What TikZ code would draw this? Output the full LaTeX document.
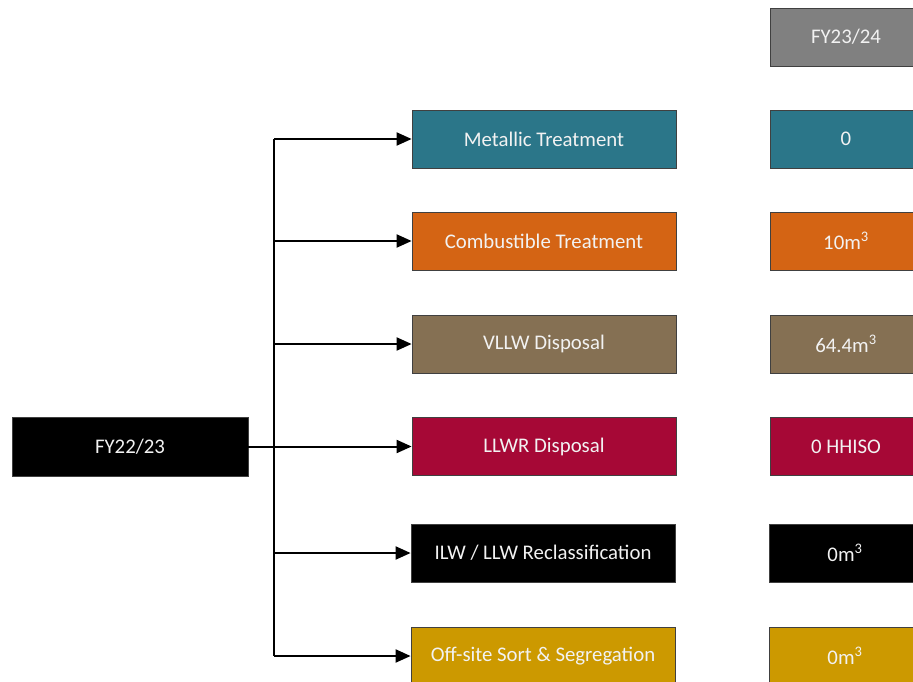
\documentclass[tikz,border=0pt]{standalone}
\usepackage{fontspec}
\setmainfont{Carlito}
\usetikzlibrary{arrows.meta}

\definecolor{metalcol}{RGB}{43,118,137}
\definecolor{combcol}{RGB}{212,100,20}
\definecolor{vllwcol}{RGB}{133,112,83}
\definecolor{llwrcol}{RGB}{166,8,54}
\definecolor{goldcol}{RGB}{204,153,0}
\definecolor{yearcol}{RGB}{128,128,128}

\tikzset{
  box/.style={draw=black!75, line width=0.8pt, text=white!95!black, inner sep=0pt,
    minimum height=58pt, font=\fontsize{20.8}{24}\selectfont},
  route/.style={minimum width=264pt},
  result/.style={minimum width=152pt},
  link/.style={line width=2pt, -{Triangle[length=15pt,width=13pt]}}
}

\begin{document}
\begin{tikzpicture}[x=1pt,y=-1pt]
    % Fix the page size
    \useasboundingbox (0,0) rectangle (913,682);
    \clip (0,0) rectangle (913,682);

    % Year boxes
    \node[box, fill=black, minimum width=236pt, minimum height=59pt] (fy22) at (130,446.5) {FY22/23};
    \node[box, result, fill=yearcol] (fy23) at (846,37) {FY23/24};

    % Routes
    \node[box, route, fill=metalcol] (metal) at (544,139) {Metallic Treatment};
    \node[box, route, fill=combcol] (comb) at (544,241) {Combustible Treatment};
    \node[box, route, fill=vllwcol] (vllw) at (544,344) {VLLW Disposal};
    \node[box, route, fill=llwrcol] (llwr) at (544,446.5) {LLWR Disposal};
    \node[box, route, fill=black] (reclass) at (543,553) {ILW / LLW Reclassification};
    \node[box, route, fill=goldcol] (sort) at (543,656) {Off-site Sort \& Segregation};

    % Volumes for the next year
    \node[box, result, fill=metalcol] (metalv) at (846,139) {0};
    \node[box, result, fill=combcol] (combv) at (846,241) {10m\textsuperscript{3}};
    \node[box, result, fill=vllwcol] (vllwv) at (846,344) {64.4m\textsuperscript{3}};
    \node[box, result, fill=llwrcol] (llwrv) at (846,446.5) {0 HHISO};
    \node[box, result, fill=black] (reclassv) at (845,553) {0m\textsuperscript{3}};
    \node[box, result, fill=goldcol] (sortv) at (845,656) {0m\textsuperscript{3}};

    % Trunk of the tree
    \coordinate (top) at (274,139);
    \coordinate (bottom) at (274,656);
    \draw[line width=2pt] (fy22.east) -- (top |- fy22.east);
    \draw[line width=2pt] (top) -- (bottom);

    % Branches to each route
    \foreach \n in {metal,comb,vllw,llwr,reclass,sort}
        \draw[link] (top |- \n.west) -- (\n.west);
\end{tikzpicture}
\end{document}
